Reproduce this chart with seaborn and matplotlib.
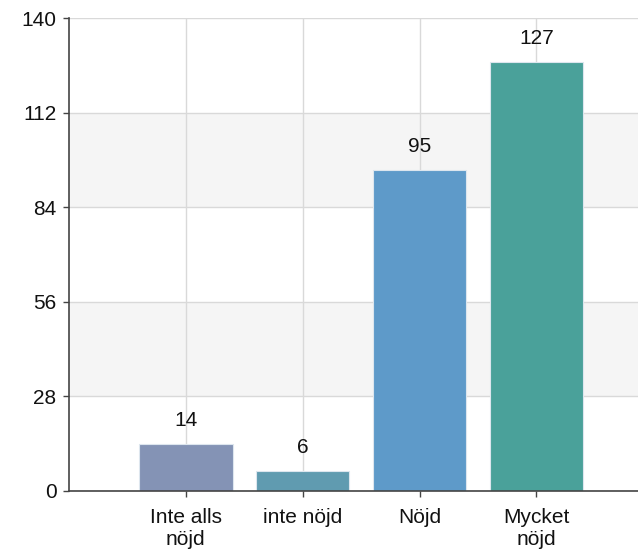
import matplotlib
matplotlib.use("Agg")
import matplotlib.pyplot as plt
import seaborn as sns
import pandas as pd

categories = ["Inte alls\nnöjd", "inte nöjd", "Nöjd", "Mycket\nnöjd"]
values = [14, 6, 95, 127]
colors = ["#8493B5", "#609BB0", "#5E9AC9", "#4AA19A"]
yticks = [0, 28, 56, 84, 112, 140]

sns.set_theme(style="white")
plt.rcParams["font.family"] = ["Liberation Sans", "DejaVu Sans"]

df = pd.DataFrame({"cat": categories, "val": values})

fig = plt.figure(figsize=(6.38, 5.51), dpi=100)
ax = fig.add_axes([69/638, 60/551, 1 - 69/638, (491-18)/551])

# alternating bands
for i in range(len(yticks) - 1):
    if i % 2 == 1:
        ax.axhspan(yticks[i], yticks[i+1], color="#F5F5F5", zorder=0, lw=0)

sns.barplot(data=df, x="cat", y="val", hue="cat", palette=colors, legend=False,
            width=0.8, edgecolor="#DDE6EE", linewidth=0.8, saturation=1, ax=ax, zorder=3)

for i, v in enumerate(values):
    ax.annotate(str(v), xy=(i, v), xytext=(0, 10), textcoords="offset points",
                ha="center", va="bottom", fontsize=15, color="#111111", zorder=4)

ax.set_xlim(-1, 3.87)
ax.set_ylim(0, 140)
ax.set_yticks(yticks)
ax.set_yticklabels([str(t) for t in yticks])
ax.set_xlabel("")
ax.set_ylabel("")

ax.grid(True, axis="both", color="#D9D9D9", lw=1, zorder=1)
ax.set_axisbelow(True)

for s in ["top", "right"]:
    ax.spines[s].set_visible(False)
for s in ["left", "bottom"]:
    ax.spines[s].set_color("#444444")
    ax.spines[s].set_linewidth(1.2)
    ax.spines[s].set_zorder(5)

ax.tick_params(axis="both", which="both", length=4, width=1, color="#444444",
               labelsize=15, labelcolor="#111111", direction="out", left=True, bottom=True)
ax.tick_params(axis="y", pad=5)
ax.tick_params(axis="x", pad=8)
for lab in ax.get_xticklabels():
    lab.set_linespacing(1.25)
ax.set_facecolor("white")

fig.savefig("out.png", dpi=100)
